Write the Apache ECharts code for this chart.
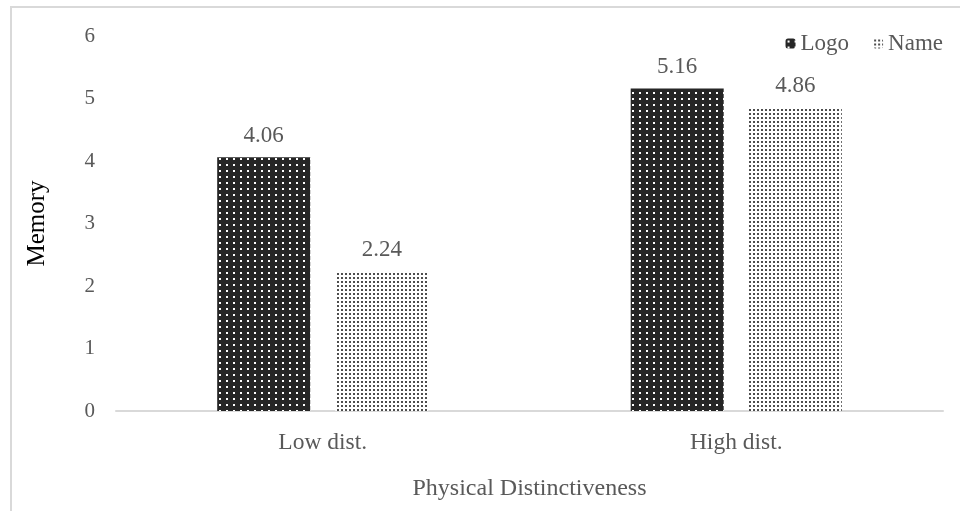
<!DOCTYPE html>
<html>
<head>
<meta charset="utf-8">
<script src="https://cdn.jsdelivr.net/npm/echarts@6/dist/echarts.min.js"></script>
<style>
  html, body { margin: 0; padding: 0; background: #fff; }
  #chart { width: 960px; height: 511px; }
</style>
</head>
<body>
<div id="chart"></div>
<script>
const categories = ["Low dist.", "High dist."];
const logoValues = [4.06, 5.16];
const nameValues = [2.24, 4.86];
const yTicks = [0, 1, 2, 3, 4, 5, 6];

// dotted fills, like the printed figure
function dotTile(w, h, bg, dot, dots) {
  const c = document.createElement("canvas");
  c.width = w;
  c.height = h;
  const ctx = c.getContext("2d");
  ctx.fillStyle = bg;
  ctx.fillRect(0, 0, w, h);
  ctx.fillStyle = dot;
  dots.forEach(([x, y, s]) => ctx.fillRect(x, y, s, s));
  return c;
}

const logoFill = {
  image: dotTile(7, 6, "#262626", "#ffffff", [[2, 2, 2]]),
  repeat: "repeat",
};
const nameFill = {
  image: dotTile(4, 4, "#ffffff", "#4d4d4d", [[1, 1, 2]]),
  repeat: "repeat",
};

const font = "'Liberation Serif', 'DejaVu Serif', serif";
const chart = echarts.init(document.getElementById("chart"));

const valueLabel = {
  show: true,
  position: "top",
  distance: 10,
  fontFamily: font,
  fontSize: 23,
  color: "#595959",
  formatter: (p) => p.value.toFixed(2),
};

chart.setOption({
  animation: false,
  backgroundColor: "#fff",
  textStyle: { fontFamily: font },
  graphic: [
    {
      type: "rect",
      silent: true,
      z: -10,
      shape: { x: 11, y: 7, width: 1000, height: 600 },
      style: { fill: "none", stroke: "#d9d9d9", lineWidth: 2 },
    },
  ],
  legend: {
    data: ["Logo", "Name"],
    right: 12,
    top: 27,
    itemWidth: 10,
    itemHeight: 10,
    itemGap: 24,
    textStyle: { fontFamily: font, fontSize: 23, color: "#595959" },
  },
  grid: { left: 116, right: 17, top: 36, bottom: 100 },
  xAxis: {
    type: "category",
    data: categories,
    name: "Physical Distinctiveness",
    nameLocation: "middle",
    nameGap: 66,
    nameTextStyle: { fontFamily: font, fontSize: 24, color: "#595959" },
    axisLine: { lineStyle: { color: "#d9d9d9", width: 2 } },
    axisTick: { show: false },
    axisLabel: { fontFamily: font, fontSize: 23.5, color: "#595959", margin: 20 },
  },
  yAxis: {
    type: "value",
    min: yTicks[0],
    max: yTicks[yTicks.length - 1],
    interval: 1,
    name: "Memory",
    nameLocation: "middle",
    nameGap: 66,
    nameTextStyle: { fontFamily: font, fontSize: 25, color: "#000" },
    axisLine: { show: false },
    axisTick: { show: false },
    splitLine: { show: false },
    axisLabel: { fontFamily: font, fontSize: 21, color: "#595959", margin: 21 },
  },
  series: [
    {
      name: "Logo",
      type: "bar",
      data: logoValues,
      barWidth: 93,
      barGap: "27%",
      itemStyle: { color: logoFill },
      label: valueLabel,
    },
    {
      name: "Name",
      type: "bar",
      data: nameValues,
      barWidth: 93,
      itemStyle: { color: nameFill },
      label: valueLabel,
    },
  ],
});
</script>
</body>
</html>
